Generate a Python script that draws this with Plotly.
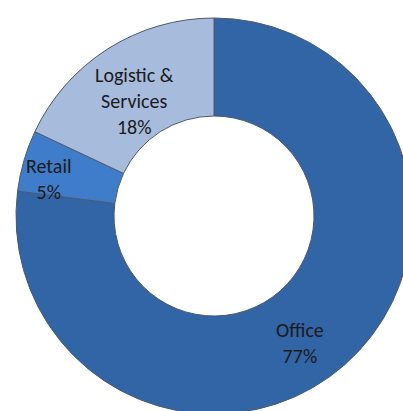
import math
import plotly.graph_objects as go

labels = ["Office", "Retail", "Logistic &<br>Services"]
values = [77, 5, 18]
colors = ["#3165A6", "#3F7CC9", "#A7BBDD"]

W, H = 420, 424
X0, X1, Y0, Y1 = 16, 412, 18, 414  # pixel box of the pie
FONT = dict(family="Carlito, Calibri, Lato, sans-serif", size=20, color="#1B1B1B")
# label placement: (fraction of outer radius, angle nudge in degrees)
LABEL_POS = [(0.775, 7.3), (0.855, -3.6), (0.705, -2.1)]

total = sum(values)

fig = go.Figure(go.Pie(
    labels=labels,
    values=values,
    sort=False,
    direction="clockwise",
    rotation=0,
    hole=0.505,
    marker=dict(colors=colors, line=dict(color="#4A5A70", width=1)),
    textinfo="none",
    domain=dict(x=[X0 / W, X1 / W], y=[(H - Y1) / H, (H - Y0) / H]),
    showlegend=False,
    hoverinfo="skip",
))

# labels placed at each slice's angle, derived from the values
cx, cy = (X0 + X1) / 2 / W, 1 - (Y0 + Y1) / 2 / H
R = (X1 - X0) / 2
cum = 0
for lab, val, (rf, dang) in zip(labels, values, LABEL_POS):
    mid = math.radians((cum + val / 2) / total * 360 + dang)
    cum += val
    r = rf * R
    fig.add_annotation(
        x=cx + r * math.sin(mid) / W, y=cy + r * math.cos(mid) / H,
        xref="paper", yref="paper", showarrow=False,
        text=f"{lab}<br>{round(val / total * 100)}%",
        font=FONT, xanchor="center", yanchor="middle",
    )

fig.update_layout(
    width=W, height=H,
    margin=dict(l=0, r=0, t=0, b=0),
    paper_bgcolor="white",
    plot_bgcolor="white",
)
fig.write_html("out.html", config={"displayModeBar": False},
               post_script="document.body.style.margin='0';document.body.style.overflow='hidden';")
